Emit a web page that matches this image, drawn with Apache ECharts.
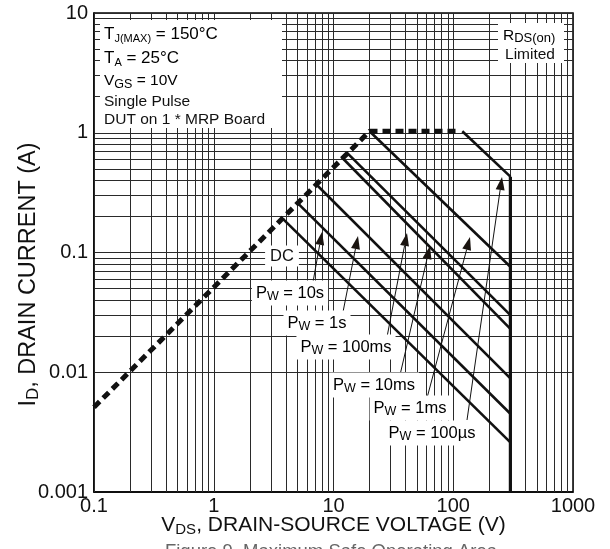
<!DOCTYPE html>
<html>
<head>
<meta charset="utf-8">
<title>SOA</title>
<script src="https://cdn.jsdelivr.net/npm/echarts@6/dist/echarts.min.js"></script>
<style>
  html, body { margin: 0; padding: 0; background: #fff; }
  #chart { width: 610px; height: 549px; }
</style>
</head>
<body>
<div id="chart"></div>
<script>
// Axis tick labels (decades)
const xTickLabels = ['0.1', '1', '10', '100', '1000'];
const yTickLabels = ['0.001', '0.01', '0.1', '1', '10'];

// RDS(on) limit (dashed): resistive slope then current ceiling
const rdsLimit = [[0.1, 0.0051], [20, 1.03], [110, 1.03]];

// Pulse-width limit lines [VDS, ID]
const pw100us = [[119, 1.03], [300, 0.43]];
const pw1ms   = [[20, 1.03], [300, 0.076]];
const pw10ms  = [[12.8, 0.69], [300, 0.030]];
const pw100ms = [[11.6, 0.63], [300, 0.023]];
const pw1s    = [[7.2, 0.37], [300, 0.0089]];
const pw10s   = [[5.0, 0.26], [300, 0.0045]];
const dcLine  = [[3.8, 0.19], [300, 0.0026]];

// Breakdown voltage limit
const vdsMax = [[300, 0.43], [300, 0.001]];

// Log grid line positions (1..9 per decade)
function logGrid(lo, hi) {
  const out = [];
  for (let e = lo; e < hi; e++) {
    for (let k = 1; k <= 9; k++) out.push(k * Math.pow(10, e));
  }
  out.push(Math.pow(10, hi));
  return out;
}
const xGrid = logGrid(-1, 3);
const yGrid = logGrid(-3, 1);

const FONT = '"Liberation Sans", Arial, Helvetica, sans-serif';
const INK = '#111';
const chart = echarts.init(document.getElementById('chart'), null, { renderer: 'canvas' });

const solid = { color: INK, width: 2.6 };

function lineSeries(name, data, style) {
  return {
    name, type: 'line', data, showSymbol: false, symbol: 'none',
    silent: true, animation: false, z: 5,
    lineStyle: style || solid
  };
}

const gridMarks = [];
xGrid.forEach(v => gridMarks.push({ xAxis: v }));
yGrid.forEach(v => gridMarks.push({ yAxis: v }));

// Rich-text styles: main run + lowered subscript run
function richPair(main, subSize, lh) {
  return {
    a: { fontSize: main, fontFamily: FONT, color: INK, lineHeight: lh || 20, verticalAlign: 'middle' },
    s: { fontSize: subSize, fontFamily: FONT, color: INK, lineHeight: 12, verticalAlign: 'bottom' }
  };
}

// Pulse-width label: "P" with subscript "W"
function pwLabel(text, x, y) {
  return {
    type: 'text', x, y, z: 50,
    style: {
      text: '{a|P}{s|W}{a| = ' + text + '}',
      align: 'center', verticalAlign: 'middle',
      backgroundColor: '#fff', padding: [2, 4, 2, 4],
      rich: richPair(16.5, 12.5, 21)
    }
  };
}

// Arrow from label to line, filled head at the tip
function arrow(x1, y1, x2, y2) {
  const dx = x2 - x1, dy = y2 - y1;
  const len = Math.sqrt(dx * dx + dy * dy);
  const ux = dx / len, uy = dy / len;
  const hl = 13, hw = 4.5;
  const bx = x2 - ux * hl, by = y2 - uy * hl;
  return [
    { type: 'line', z: 40, shape: { x1, y1, x2: bx, y2: by }, style: { stroke: INK, lineWidth: 1 } },
    { type: 'polygon', z: 40, shape: { points: [[x2, y2], [bx - uy * hw, by + ux * hw], [bx + uy * hw, by - ux * hw]] }, style: { fill: '#1a1410' } }
  ];
}

const graphics = [
  // Test conditions box
  { type: 'rect', z: 30, shape: { x: 100, y: 20, width: 182, height: 108 }, style: { fill: '#fff' } },
  { type: 'text', z: 50, x: 104, y: 34, style: { text: '{a|T}{s|J(MAX)}{a| = 150°C}', verticalAlign: 'middle', rich: richPair(17, 11) } },
  { type: 'text', z: 50, x: 104, y: 58, style: { text: '{a|T}{s|A}{a| = 25°C}', verticalAlign: 'middle', rich: richPair(17, 11) } },
  { type: 'text', z: 50, x: 104, y: 81, style: { text: '{a|V}{s|GS}{a| = 10V}', verticalAlign: 'middle', rich: richPair(15.5, 12.5) } },
  { type: 'text', z: 50, x: 104, y: 102, style: { text: 'Single Pulse', verticalAlign: 'middle', font: '15.5px ' + FONT, fill: INK } },
  { type: 'text', z: 50, x: 104, y: 120, style: { text: 'DUT on 1 * MRP Board', verticalAlign: 'middle', font: '15.5px ' + FONT, fill: INK } },

  // RDS(on) Limited box
  { type: 'rect', z: 30, shape: { x: 498, y: 23, width: 66, height: 40 }, style: { fill: '#fff' } },
  { type: 'text', z: 50, x: 503, y: 36, style: { text: '{a|R}{s|DS(on)}', verticalAlign: 'middle', rich: richPair(15.5, 13, 18) } },
  { type: 'text', z: 50, x: 530, y: 55, style: { text: 'Limited', align: 'center', verticalAlign: 'middle', font: '15.5px ' + FONT, fill: INK } },

  // DC label
  { type: 'text', z: 50, x: 282, y: 256, style: { text: 'DC', align: 'center', verticalAlign: 'middle', font: '16.5px ' + FONT, fill: INK, backgroundColor: '#fff', padding: [2, 5, 2, 5] } },

  pwLabel('10s', 290, 293),
  pwLabel('1s', 317, 323),
  pwLabel('100ms', 346, 347),
  pwLabel('10ms', 374, 385),
  pwLabel('1ms', 410, 408),
  pwLabel('100µs', 432, 433),

  ...arrow(313, 282, 322, 232),
  ...arrow(343, 312, 358, 236),
  ...arrow(387, 337, 407, 233),
  ...arrow(400, 375, 430, 246),
  ...arrow(427, 398, 470, 237),
  ...arrow(467, 420, 502, 177),

  // Figure caption (bottom edge)
  { type: 'text', z: 50, x: 331, y: 542, style: { text: 'Figure 9. Maximum Safe Operating Area', align: 'center', verticalAlign: 'top', font: '18.5px ' + FONT, fill: '#666' } }
];

const option = {
  backgroundColor: '#fff',
  animation: false,
  grid: {
    left: 94, top: 13, width: 479, height: 479,
    containLabel: false, outerBoundsMode: 'none',
    show: true, borderColor: '#000', borderWidth: 1.5, backgroundColor: 'transparent'
  },
  xAxis: {
    type: 'log', logBase: 10, min: 0.1, max: 1000,
    axisLine: { show: true, lineStyle: { color: '#000', width: 1.5 } },
    axisTick: { show: false },
    splitLine: { show: false },
    axisLabel: {
      margin: 4, fontSize: 20, fontFamily: FONT, color: INK,
      formatter: v => xTickLabels[Math.round(Math.log10(v)) + 1] || ''
    },
    name: '{a|V}{s|DS}{a|, DRAIN-SOURCE VOLTAGE (V)}',
    nameLocation: 'middle', nameGap: 21, nameMoveOverlap: false,
    nameTextStyle: { rich: richPair(21, 15, 24) }
  },
  yAxis: {
    type: 'log', logBase: 10, min: 0.001, max: 10,
    axisLine: { show: true, lineStyle: { color: '#000', width: 1.5 } },
    axisTick: { show: false },
    splitLine: { show: false },
    axisLabel: {
      margin: 6, fontSize: 20, fontFamily: FONT, color: INK,
      formatter: v => yTickLabels[Math.round(Math.log10(v)) + 3] || ''
    },
    name: '{a|I}{s|D}{a|, DRAIN CURRENT (A)}',
    nameLocation: 'middle', nameGap: 52, nameRotate: 90, nameMoveOverlap: false,
    nameTextStyle: { padding: [0, 44, 0, 0], rich: richPair(23.5, 17, 27) }
  },
  series: [
    {
      name: 'grid', type: 'line', data: [], silent: true, z: 1,
      markLine: {
        silent: true, symbol: ['none', 'none'], animation: false,
        label: { show: false },
        lineStyle: { color: '#2a2a2a', width: 1, type: 'solid' },
        data: gridMarks
      }
    },
    lineSeries('RDS(on) Limited', rdsLimit, { color: INK, width: 5, type: [8, 5] }),
    lineSeries('100µs', pw100us),
    lineSeries('1ms', pw1ms),
    lineSeries('10ms', pw10ms),
    lineSeries('100ms', pw100ms),
    lineSeries('1s', pw1s),
    lineSeries('10s', pw10s),
    lineSeries('DC', dcLine),
    lineSeries('VDS max', vdsMax, { color: INK, width: 3.2 })
  ],
  graphic: graphics
};

chart.setOption(option);
</script>
</body>
</html>
